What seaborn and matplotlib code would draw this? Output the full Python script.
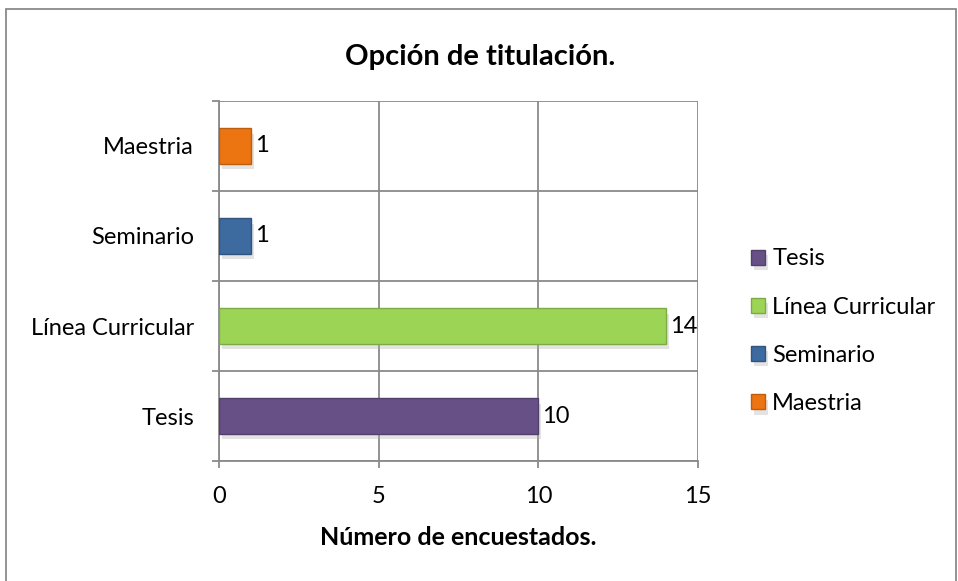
import matplotlib
matplotlib.use("Agg")
import matplotlib.pyplot as plt
import matplotlib.patheffects as pe
from matplotlib.patches import Rectangle
import seaborn as sns
import pandas as pd

# datos
opciones = ["Tesis", "Línea Curricular", "Seminario", "Maestria"]
encuestados = [10, 14, 1, 1]
colores = ["#665086", "#9cd556", "#3d6a9f", "#ec7411"]
ticks_x = [0, 5, 10, 15]

df = pd.DataFrame({"opcion": opciones, "n": encuestados})

sns.set_theme(style="white")
plt.rcParams["font.family"] = ["Lato", "DejaVu Sans"]
plt.rcParams["text.color"] = "black"
plt.rcParams["axes.labelcolor"] = "black"
plt.rcParams["xtick.color"] = "black"
plt.rcParams["ytick.color"] = "black"

fig = plt.figure(figsize=(9.58, 5.81), dpi=100)
ax = fig.add_axes([0.2286, 0.2065, 0.7286 - 0.2286, 0.8262 - 0.2065])

gris = "#8a8a8a"
fs = 17

sns.barplot(data=df, y="opcion", x="n", hue="opcion",
            order=opciones[::-1], hue_order=opciones,
            palette=colores, width=0.39, dodge=False, orient="h",
            legend=True, ax=ax, saturation=1, zorder=3)

# sombra y borde tipo bisel
for p in ax.patches:
    c = p.get_facecolor()
    p.set_edgecolor(tuple(v * 0.8 for v in c[:3]))
    p.set_linewidth(1.0)
    p.set_path_effects([pe.SimplePatchShadow(offset=(2, -4), shadow_rgbFace="#b0b0b0", alpha=0.35), pe.Normal()])

for cont in ax.containers:
    ax.bar_label(cont, padding=3, fontsize=fs, color="black")

ax.set_xlim(0, 15)
ax.set_xticks(ticks_x)
ax.set_xticklabels([str(t) for t in ticks_x], fontsize=fs)
ax.set_ylim(3.5, -0.5)
ax.set_yticks(range(4))
ax.set_yticklabels(opciones[::-1], fontsize=fs)
ax.tick_params(axis="y", which="major", length=0, pad=18)
ax.set_yticks([-0.5, 0.5, 1.5, 2.5, 3.5], minor=True)
ax.tick_params(axis="y", which="minor", length=5, color=gris, width=1.3, direction="out", left=True)
ax.tick_params(axis="x", length=5, color=gris, width=1.3, direction="out", bottom=True, pad=13)

ax.grid(True, axis="x", color=gris, linewidth=1.3, zorder=0)
ax.grid(True, axis="y", which="minor", color=gris, linewidth=1.3, zorder=0)
ax.grid(False, axis="y", which="major")
ax.set_axisbelow(True)
for s in ["top", "right"]:
    ax.spines[s].set_visible(False)
for s in ["left", "bottom"]:
    ax.spines[s].set_color(gris)
    ax.spines[s].set_linewidth(1.3)

ax.set_ylabel("")
ax.set_xlabel("Número de encuestados.", fontsize=18, fontweight="bold", labelpad=14)

fig.text(0.501, 0.902, "Opción de titulación.", ha="center", va="center",
         fontsize=21, fontweight="bold")

handles, labels = ax.get_legend_handles_labels()
ax.get_legend().remove()
fig.legend(handles, labels, loc="center left", bbox_to_anchor=(0.784, 0.43),
           frameon=False, fontsize=fs, handlelength=0.6, handleheight=0.6,
           handletextpad=0.3, labelspacing=1.15, borderpad=0, borderaxespad=0)

# marco exterior
fig.patches.append(Rectangle((6 / 958, -0.05), 951 / 958 - 0.001, 1.05 - 9 / 581,
                             transform=fig.transFigure, fill=False,
                             edgecolor=gris, linewidth=1.3))

fig.savefig("out.png", dpi=100)
